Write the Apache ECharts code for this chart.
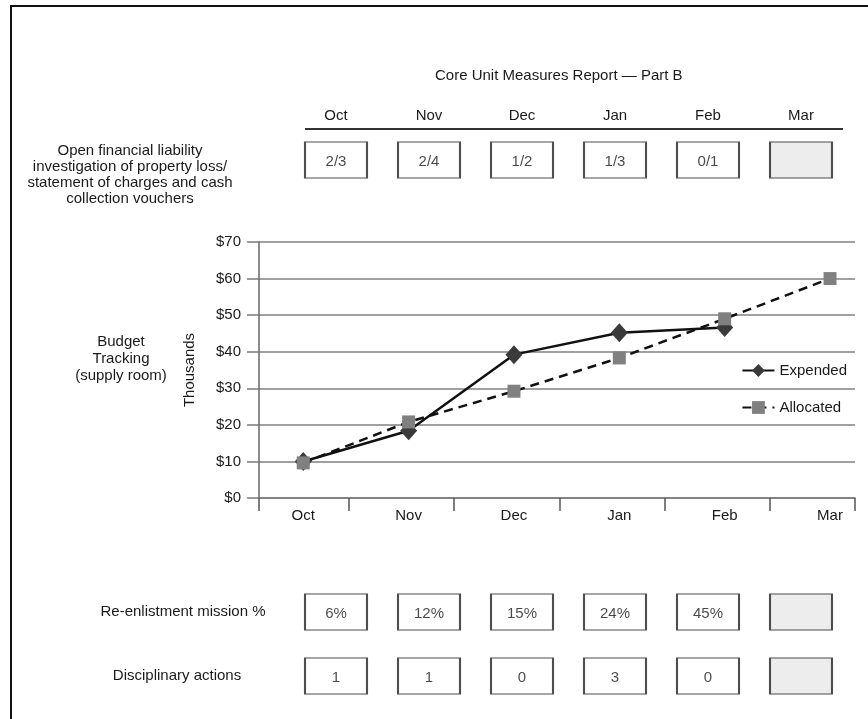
<!DOCTYPE html>
<html>
<head>
<meta charset="utf-8">
<script src="https://cdn.jsdelivr.net/npm/echarts@6/dist/echarts.min.js"></script>
<style>
  html, body { margin: 0; padding: 0; background: #fff; }
  #chart { width: 868px; height: 719px; }
</style>
</head>
<body>
<div id="chart"></div>
<script>
// months shared by every row
const months = ['Oct', 'Nov', 'Dec', 'Jan', 'Feb', 'Mar'];

// table rows (null = no entry yet, drawn as a grey cell)
const liabilityRow = ['2/3', '2/4', '1/2', '1/3', '0/1', null];
const reenlistRow = ['6%', '12%', '15%', '24%', '45%', null];
const disciplinaryRow = ['1', '1', '0', '3', '0', null];

// budget tracking, thousands of dollars
const expended = [10, 18.4, 39.2, 45.2, 46.6, null];
const allocated = [9.6, 20.8, 29.2, 38.3, 49, 60];

// y axis ticks
const yMin = 0;
const yMax = 70;
const yStep = 10;

const FONT = 'Liberation Sans, Arial, sans-serif';
const TXT = '#1a1a1a';

const chart = echarts.init(document.getElementById('chart'));

// one small grid per table row, same column layout
const rowGrid = top => ({ left: 289.5, width: 558, top: top, height: 36 });

const rowSeries = (row, idx) => ({
  type: 'scatter',
  xAxisIndex: idx,
  yAxisIndex: idx,
  silent: true,
  symbol: 'rect',
  symbolSize: [62, 36],
  data: row.map((v, i) => ({
    name: v == null ? '' : v,
    value: [months[i], 0.5],
    itemStyle: { color: v == null ? '#e8e8e8' : '#fff' }
  })),
  itemStyle: { borderColor: '#222', borderWidth: 1.6 },
  label: {
    show: true,
    position: 'inside',
    formatter: '{b}',
    color: TXT,
    fontSize: 15,
    fontFamily: FONT,
    offset: [0, 2]
  }
});

const rowXAxis = (idx, showLabels) => ({
  type: 'category',
  gridIndex: idx,
  data: months,
  position: 'top',
  axisLine: { show: false },
  axisTick: { show: false },
  axisLabel: { show: showLabels, margin: 19, color: TXT, fontSize: 15, fontFamily: FONT }
});

const rowYAxis = idx => ({ type: 'value', gridIndex: idx, min: 0, max: 1, show: false });

// x positions of the chart's boundary ticks
const xTicks = [-0.42].concat(months.slice(1).map((m, i) => i + 0.43), [5.237]);

const option = {
  backgroundColor: '#fff',
  animation: false,
  title: {
    text: 'Core Unit Measures Report \u2014 Part B',
    left: 430,
    top: 63,
    textStyle: { fontSize: 15, fontWeight: 'normal', color: TXT, fontFamily: FONT }
  },
  legend: {
    data: ['Expended', 'Allocated'],
    orient: 'vertical',
    right: 16,
    top: 358,
    itemWidth: 32,
    itemHeight: 16,
    itemGap: 22,
    textStyle: { fontSize: 15, color: TXT, fontFamily: FONT }
  },
  grid: [
    rowGrid(142),
    rowGrid(594),
    rowGrid(658),
    { left: 259, top: 242, width: 596, height: 256 }
  ],
  xAxis: [
    rowXAxis(0, true),
    rowXAxis(1, false),
    rowXAxis(2, false),
    {
      type: 'value',
      gridIndex: 3,
      min: -0.42,
      max: 5.237,
      axisLine: { show: true, onZero: true, lineStyle: { color: '#7a7a7a', width: 1.5 } },
      axisTick: { show: true, customValues: xTicks, length: 13, lineStyle: { color: '#555', width: 1.5 } },
      axisLabel: {
        customValues: months.map((m, i) => i),
        formatter: v => months[Math.round(v)],
        margin: 10,
        color: TXT,
        fontSize: 15,
        fontFamily: FONT
      },
      splitLine: { show: false }
    }
  ],
  yAxis: [
    rowYAxis(0),
    rowYAxis(1),
    rowYAxis(2),
    {
      type: 'value',
      gridIndex: 3,
      min: yMin,
      max: yMax,
      interval: yStep,
      name: 'Thousands',
      nameLocation: 'middle',
      nameGap: 62,
      nameTextStyle: { fontSize: 15, color: TXT, fontFamily: FONT },
      axisLine: { show: true, onZero: false, lineStyle: { color: '#666', width: 1.5 } },
      axisTick: { show: true, length: 12, lineStyle: { color: '#7a7a7a', width: 1.5 } },
      axisLabel: { formatter: '${value}', margin: 18, color: TXT, fontSize: 15, fontFamily: FONT },
      splitLine: { show: true, lineStyle: { color: '#808080', width: 1.5 } }
    }
  ],
  series: [
    rowSeries(liabilityRow, 0),
    rowSeries(reenlistRow, 1),
    rowSeries(disciplinaryRow, 2),
    {
      name: 'Expended',
      type: 'line',
      xAxisIndex: 3,
      yAxisIndex: 3,
      data: expended.map((v, i) => [i, v]),
      symbol: 'diamond',
      symbolSize: [17, 19],
      itemStyle: { color: '#3a3a3a' },
      lineStyle: { color: '#111', width: 2.5 }
    },
    {
      name: 'Allocated',
      type: 'line',
      xAxisIndex: 3,
      yAxisIndex: 3,
      data: allocated.map((v, i) => [i, v]),
      symbol: 'rect',
      symbolSize: 13,
      itemStyle: { color: '#808080' },
      lineStyle: { color: '#111', width: 2.5, type: [9, 6] }
    }
  ],
  graphic: [
    // outer frame (right and bottom edges fall off the page)
    {
      type: 'rect',
      shape: { x: 11, y: 6, width: 900, height: 800 },
      style: { fill: 'none', stroke: '#111', lineWidth: 2 },
      silent: true
    },
    // rule under the month headers
    {
      type: 'line',
      shape: { x1: 305, y1: 129, x2: 843, y2: 129 },
      style: { stroke: '#333', lineWidth: 2 },
      silent: true
    },
    {
      type: 'text',
      x: 130,
      y: 143,
      style: {
        text: 'Open financial liability\ninvestigation of property loss/\nstatement of charges and cash\ncollection vouchers',
        align: 'center',
        lineHeight: 16,
        fontSize: 15,
        fontFamily: FONT,
        fill: TXT
      }
    },
    {
      type: 'text',
      x: 121,
      y: 333,
      style: {
        text: 'Budget\nTracking\n(supply room)',
        align: 'center',
        lineHeight: 17,
        fontSize: 15,
        fontFamily: FONT,
        fill: TXT
      }
    },
    {
      type: 'text',
      x: 183,
      y: 612,
      style: { text: 'Re-enlistment mission %', align: 'center', verticalAlign: 'middle', fontSize: 15, fontFamily: FONT, fill: TXT }
    },
    {
      type: 'text',
      x: 177,
      y: 676,
      style: { text: 'Disciplinary actions', align: 'center', verticalAlign: 'middle', fontSize: 15, fontFamily: FONT, fill: TXT }
    }
  ]
};

chart.setOption(option);
</script>
</body>
</html>
